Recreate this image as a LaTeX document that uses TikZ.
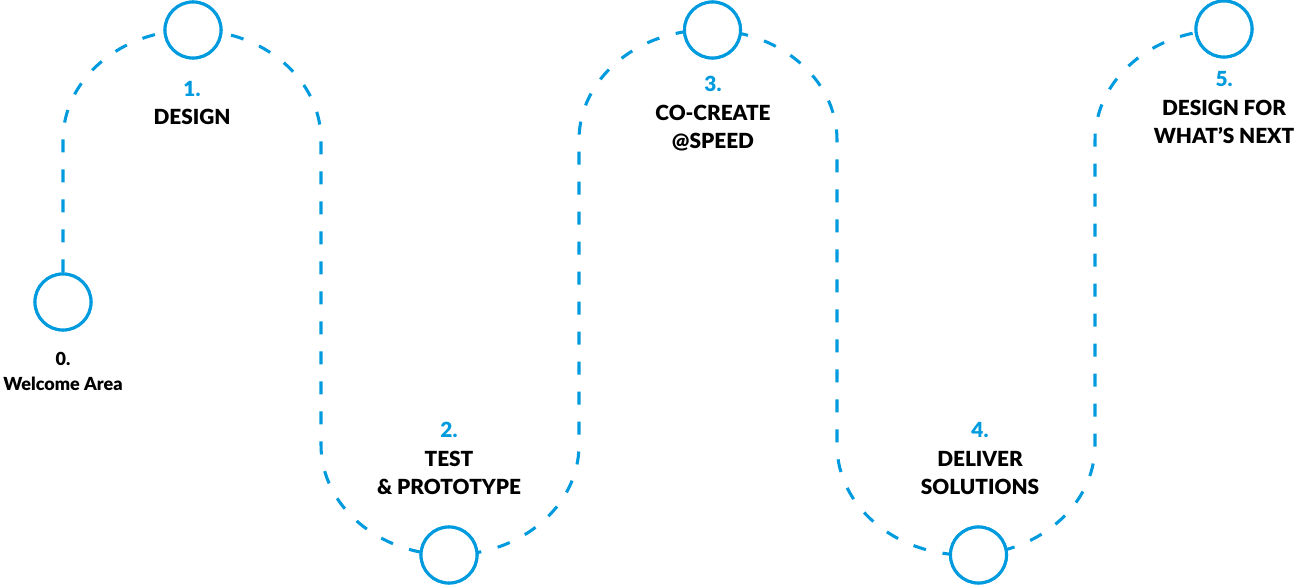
\documentclass[tikz,border=0pt]{standalone}
\usepackage{fontspec}
\setmainfont{Lato}[BoldFont={Lato Black}]
\definecolor{stepblue}{RGB}{0,155,222}
\begin{document}
\begin{tikzpicture}[x=0.75pt,y=0.75pt,
  flow/.style={draw=stepblue,line width=2.3pt,dash pattern=on 9.75pt off 12.75pt},
  stop/.style={circle,draw=stepblue,fill=white,line width=2.3pt,minimum size=42pt,inner sep=0pt},
  lab/.style={align=center,inner sep=0pt,anchor=base,font=\bfseries\fontsize{15.6}{21.4}\selectfont},
  labsmall/.style={align=center,inner sep=0pt,anchor=base,font=\bfseries\fontsize{13.5}{18.75}\selectfont}]
\useasboundingbox (0,0) rectangle (1298,585);
\node[stop] (c0) at (63,283) {};
\node[stop] (c1) at (193,555) {};
\node[stop] (c2) at (449,30) {};
\node[stop] (c3) at (712.5,555) {};
\node[stop] (c4) at (978.5,30) {};
\node[stop] (c5) at (1224,556) {};
\coordinate (a1) at (63,445);
\coordinate (a2) at (321,140);
\coordinate (a3) at (579,445);
\coordinate (a4) at (837,140);
\coordinate (a5) at (1095,445);
\draw[flow] (c0.north) -- (a1)
  arc[start angle=180,end angle=0,x radius=129,y radius=110] -- (a2)
  arc[start angle=180,end angle=360,x radius=129,y radius=110] -- (a3)
  arc[start angle=180,end angle=0,x radius=129,y radius=110] -- (a4)
  arc[start angle=180,end angle=360,x radius=129,y radius=110] -- (a5)
  arc[start angle=180,end angle=90,x radius=129,y radius=110] -- (c5.west);
\foreach \n in {c0,c1,c2,c3,c4,c5} {\node[stop] at (\n) {};}
\node[labsmall] (l0) at (63,194) {0.\\Welcome Area};
\node[lab] (l1) at (192,460) {{\color{stepblue}1.}\\DESIGN};
\node[lab] (l2) at (449,90) {{\color{stepblue}2.}\\TEST\\\& PROTOTYPE};
\node[lab] (l3) at (713,436) {{\color{stepblue}3.}\\CO-CREATE\\@SPEED};
\node[lab] (l4) at (980,90) {{\color{stepblue}4.}\\DELIVER\\SOLUTIONS};
\node[lab] (l5) at (1224,441) {{\color{stepblue}5.}\\DESIGN FOR\\WHAT’S NEXT};
\end{tikzpicture}
\end{document}
